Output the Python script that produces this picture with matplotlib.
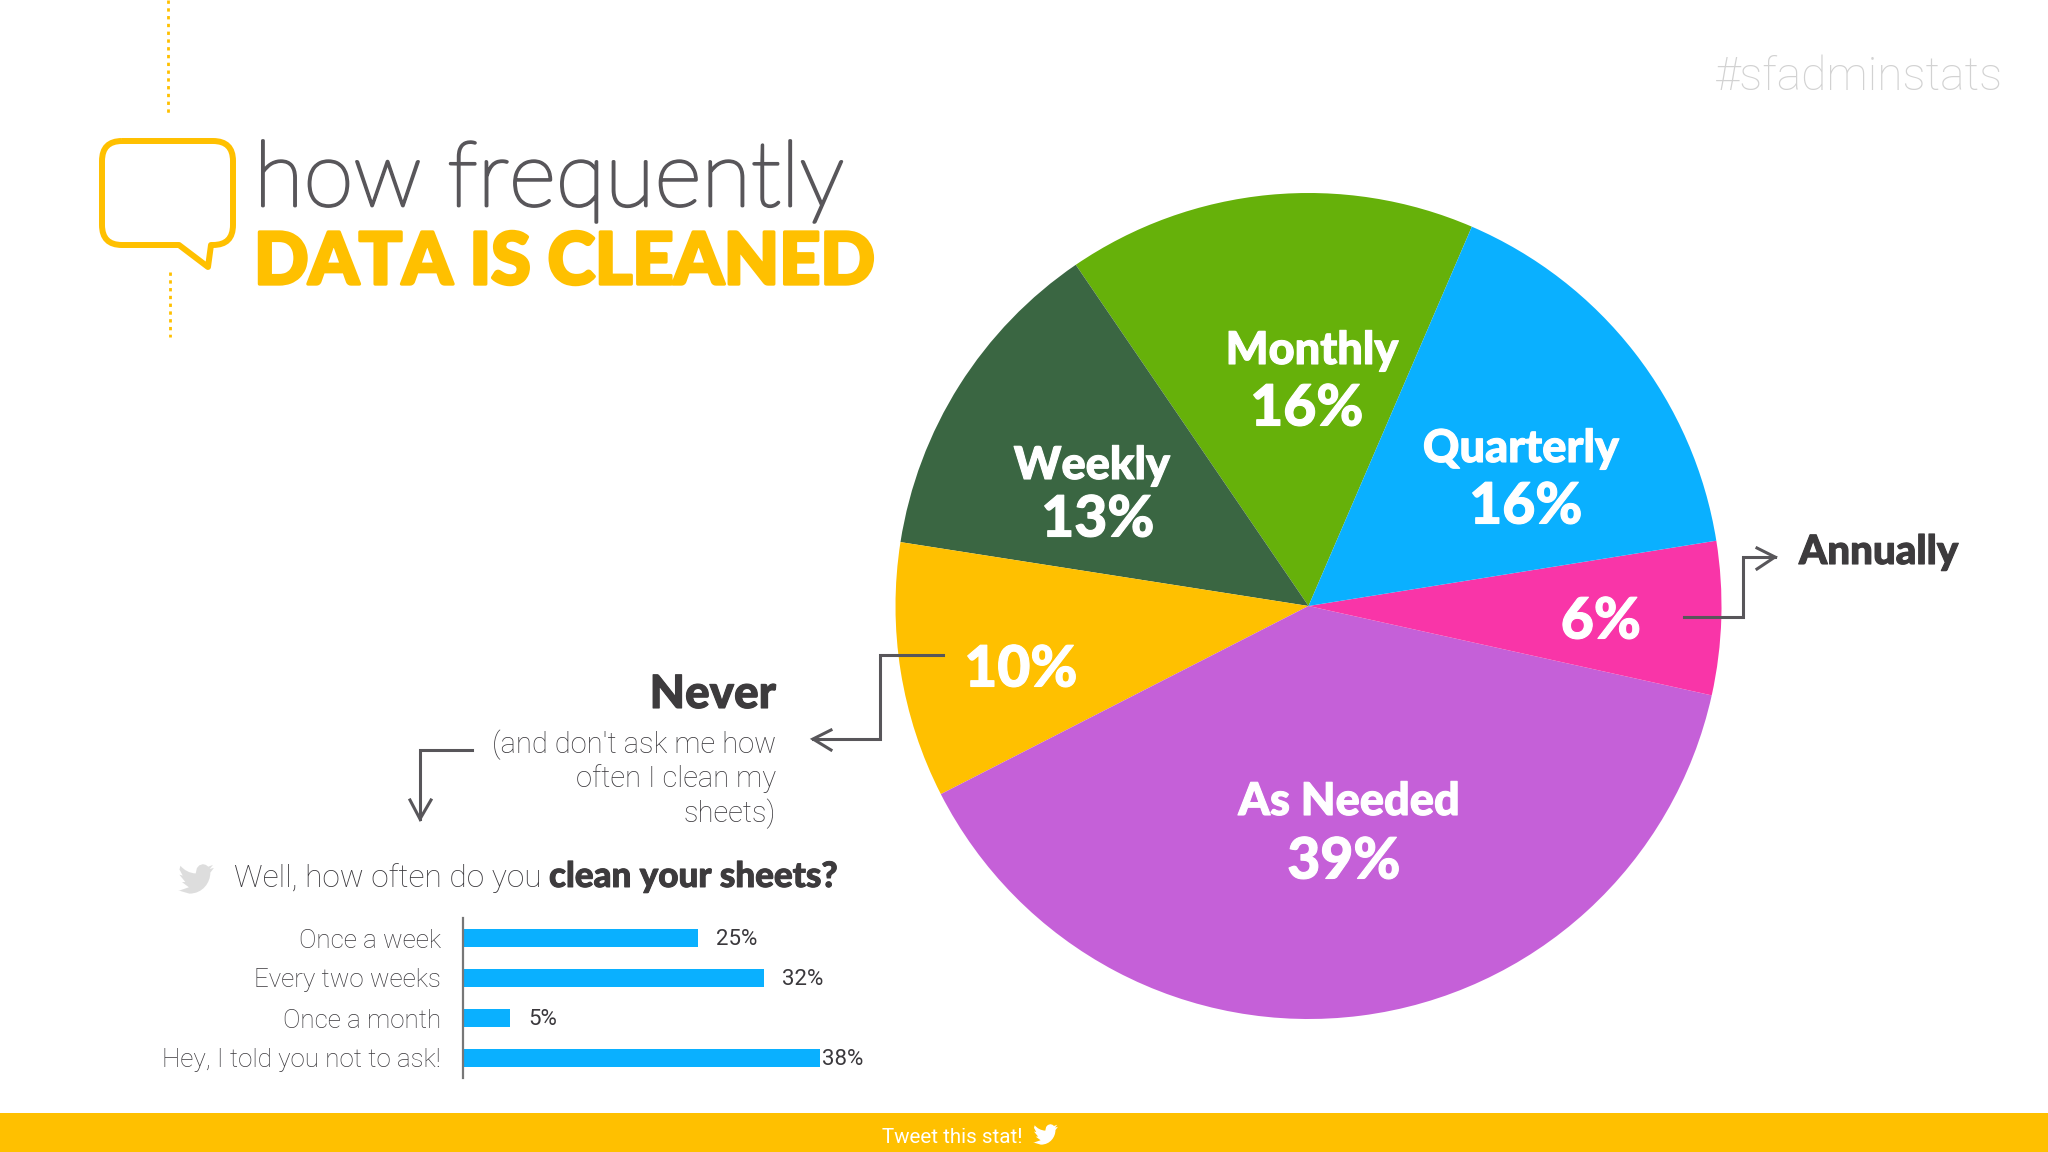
# how frequently data is cleaned - pie chart with small bar chart

import matplotlib
matplotlib.use("Agg")
import matplotlib.pyplot as plt
import matplotlib.patheffects as pe
from matplotlib.path import Path
from matplotlib.patches import PathPatch, Rectangle

# ================================================================
# DATA
# ================================================================

pie_labels = ["Monthly", "Weekly", "Never", "As Needed", "Annually", "Quarterly"]
pie_values = [16, 13, 10, 39, 6, 16]

sheet_labels = ["Once a week", "Every two weeks", "Once a month", "Hey, I told you not to ask!"]
sheet_values = [25, 32, 5, 38]

# ================================================================
# STYLE
# ================================================================

YELLOW = "#FFC000"
BLUE = "#0AB0FF"
DARK = "#3D3B3D"
GREY = "#58565A"
TEXT = "#3A383C"
pie_colors = ["#66B10A", "#3A6642", YELLOW, "#C560D8", "#F935A8", BLUE]

W, H = 2048, 1152

fig = plt.figure(figsize=(W / 100, H / 100), dpi=100, facecolor="white")


def px_axes(x0, y0, x1, y1):
    # axes from pixel box (y counted from the top)
    return fig.add_axes([x0 / W, 1 - y1 / H, (x1 - x0) / W, (y1 - y0) / H])


def fat(color, lw):
    # heavier strokes than the installed weight gives
    return [pe.withStroke(linewidth=lw, foreground=color)]


# ================================================================
# PIE
# ================================================================

cx, cy, r = 1308.5, 606, 413
ax_pie = px_axes(cx - r, cy - r, cx + r, cy + r)
ax_pie.pie(pie_values, colors=pie_colors, startangle=66.7, counterclock=True, radius=1)
ax_pie.set_xlim(-1, 1)
ax_pie.set_ylim(-1, 1)
ax_pie.axis("off")

# ================================================================
# BAR CHART
# ================================================================

ax_bar = px_axes(463, 918, 839, 1078)
ax_bar.barh(range(len(sheet_values)), sheet_values, height=0.46, color=BLUE)
ax_bar.set_xlim(0, 40)
ax_bar.set_ylim(3.5, -0.5)
ax_bar.set_xticks([])
ax_bar.set_yticks(range(len(sheet_labels)))
ax_bar.set_yticklabels(sheet_labels, family="Roboto", weight="light", fontsize=18.7, color=TEXT)
ax_bar.tick_params(axis="y", length=0, pad=16)
for side in ["top", "right", "bottom"]:
    ax_bar.spines[side].set_visible(False)
ax_bar.spines["left"].set_color("#777777")
ax_bar.spines["left"].set_linewidth(1.6)
ax_bar.patch.set_alpha(0)

bar_offsets = [13, 13, 13, 1]
for i, v in enumerate(sheet_values):
    ax_bar.annotate(f"{v}%", xy=(v, i), xytext=(bar_offsets[i], -1), textcoords="offset points",
                    va="center", ha="left", family="Roboto", fontsize=16, color=TEXT)

# ================================================================
# OVERLAY (text, arrows, header, footer) in pixel coordinates
# ================================================================

ov = fig.add_axes([0, 0, 1, 1])
ov.set_xlim(0, W)
ov.set_ylim(H, 0)
ov.axis("off")
ov.patch.set_alpha(0)

# footer
ov.add_patch(Rectangle((0, 1113), W, 39, color=YELLOW, lw=0))
ov.text(1023, 1143, "Tweet this stat!", ha="right", va="baseline", color="white",
        family="Roboto", fontsize=14.8)


def bird(x, y, w, color):
    # twitter bird, 24 unit box
    v = [(23.95, 4.57), (21.13, 5.35), (23.29, 2.62), (20.16, 3.8), (18.6, 2.6), (16.6, 2.1),
         (14.2, 2.9), (12.6, 4.7), (11.8, 8.29)]
    c = [Path.MOVETO] + [Path.LINETO] * 8
    v += [(7.69, 8.1), (4.07, 6.13), (1.64, 3.16)]
    c += [Path.CURVE4] * 3
    for p in [(0.97, 5.64), (3.16, 9.73), (0.93, 9.12), (4.88, 14.0), (2.67, 14.09), (7.27, 17.51),
              (1.17, 19.61), (0, 19.54), (7.56, 21.75)]:
        v.append(p)
        c.append(Path.LINETO)
    v += [(16.61, 21.75), (21.56, 14.26), (21.56, 7.77)]
    c += [Path.CURVE4] * 3
    v.append((23.95, 4.57))
    c.append(Path.CLOSEPOLY)
    s = w / 24.0
    pts = [(x + a * s, y + b * s) for a, b in v]
    ov.add_patch(PathPatch(Path(pts, c), facecolor=color, edgecolor="none"))


bird(1033, 1122, 25, "white")
bird(178, 861, 36, "#DDDDDD")

# hashtag
ov.text(2003, 90, "#sfadminstats", ha="right", va="baseline", color="#D2D2D2",
        family="Roboto", weight="light", fontsize=33.2)

# dotted lines
ov.plot([168, 168], [0, 115], color=YELLOW, lw=2, ls=(0, (1.2, 1.6)))
ov.plot([170, 170], [272, 337], color=YELLOW, lw=2, ls=(0, (1.2, 1.6)))

# speech bubble
L, R, T, B, rad = 102, 233, 141, 245, 20
bv = [(L + rad, T), (R - rad, T), (R, T), (R, T + rad), (R, B - rad), (R, B), (R - rad, B),
      (211, B), (208, 267), (179, B), (L + rad, B), (L, B), (L, B - rad), (L, T + rad), (L, T), (L + rad, T)]
bc = [Path.MOVETO, Path.LINETO, Path.CURVE3, Path.CURVE3, Path.LINETO, Path.CURVE3, Path.CURVE3,
      Path.LINETO, Path.LINETO, Path.LINETO, Path.LINETO, Path.CURVE3, Path.CURVE3, Path.LINETO,
      Path.CURVE3, Path.CURVE3]
ov.add_patch(PathPatch(Path(bv, bc), facecolor="none", edgecolor=YELLOW, lw=4.3, joinstyle="round"))

# title
ov.text(254, 206, "how frequently", ha="left", va="baseline", color=GREY,
        family="Lato", weight="light", fontsize=65.5, path_effects=fat(GREY, 2.0))
ov.text(254, 284, "DATA IS CLEANED", ha="left", va="baseline", color=YELLOW,
        family="Lato", weight="black", fontsize=51.6, path_effects=fat(YELLOW, 2.4))

# labels on the pie
name_pos = [(1312, 351), (1092, 466), None, (1349, 802), None, (1521, 449)]
pct_pos = [(1307, 409), (1098, 520), (1021, 670), (1344, 862), (1601, 622), (1526, 507)]
for i, name in enumerate(pie_labels):
    if name_pos[i] is not None:
        ov.text(name_pos[i][0], name_pos[i][1], name, ha="center", va="center", color="white",
                family="Lato", weight="black", fontsize=32.5, path_effects=fat("white", 0.8))
    ov.text(pct_pos[i][0], pct_pos[i][1], f"{pie_values[i]}%", ha="center", va="center", color="white",
            family="Lato", weight="black", fontsize=41, path_effects=fat("white", 0.8))

# outside labels
ov.text(1799, 564, "Annually", ha="left", va="baseline", color=DARK,
        family="Lato", weight="black", fontsize=29, path_effects=fat(DARK, 0.8))
ov.text(776, 708, "Never", ha="right", va="baseline", color=DARK,
        family="Lato", weight="black", fontsize=33, path_effects=fat(DARK, 0.8))
never_lines = ["(and don't ask me how", "often I clean my", "sheets)"]
never_y = [753, 787, 822]
for line, y in zip(never_lines, never_y):
    ov.text(776, y, line, ha="right", va="baseline", color=TEXT,
            family="Roboto", weight="light", fontsize=21)

# question above bars
ov.text(234, 887, "Well, how often do you", ha="left", va="baseline", color=TEXT,
        family="Roboto", weight="light", fontsize=22.8)
ov.text(549, 887, "clean your sheets?", ha="left", va="baseline", color=DARK,
        family="Lato", weight="black", fontsize=25.2, path_effects=fat(DARK, 0.7))


# elbow arrows
def arrow(xs, ys, head):
    ov.plot(xs, ys, color=GREY, lw=2.2, solid_joinstyle="miter", zorder=5)
    ov.plot([head[0][0], xs[-1], head[1][0]], [head[0][1], ys[-1], head[1][1]],
            color=GREY, lw=2.2, solid_joinstyle="miter", zorder=5)


arrow([1684, 1743, 1743, 1775], [617, 617, 557, 557], [(1757, 548), (1757, 569)])
arrow([943, 880, 880, 813], [655, 655, 739, 739], [(831, 730), (831, 750)])
arrow([472, 420, 420], [750, 750, 819], [(410, 800), (431, 800)])

fig.savefig("out.png", dpi=100)
